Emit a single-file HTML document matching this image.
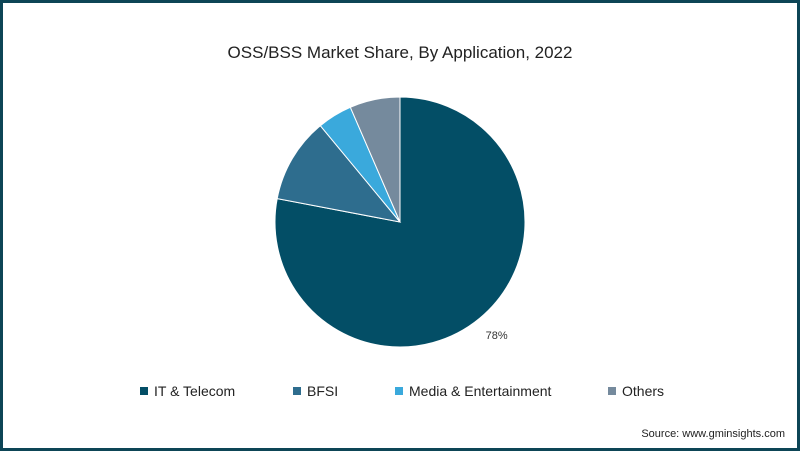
<!DOCTYPE html>
<html><head><meta charset="utf-8"><style>
html,body{margin:0;padding:0;background:#fff}
#frame{position:absolute;left:0;top:0;width:794px;height:445px;border:3px solid #0d4556;background:#fff;font-family:"Liberation Sans",sans-serif;color:#222}
#title{position:absolute;top:40px;left:0;width:794px;text-align:center;font-size:17px}
.leg{position:absolute;top:380px;font-size:14px;white-space:nowrap}
.sw{display:inline-block;width:8px;height:8px;margin-right:6px;vertical-align:1px}
#src{position:absolute;right:12px;top:425px;font-size:11px}
</style></head><body>
<div id="frame">
<div id="title">OSS/BSS Market Share, By Application, 2022</div>
<svg id="pie" width="794" height="445" style="position:absolute;left:0;top:0"></svg>
<div class="leg" style="left:137px"><span class="sw" style="background:#034e66"></span>IT &amp; Telecom</div>
<div class="leg" style="left:290px"><span class="sw" style="background:#2e6d8e"></span>BFSI</div>
<div class="leg" style="left:392px"><span class="sw" style="background:#3aa9dc"></span>Media &amp; Entertainment</div>
<div class="leg" style="left:605px"><span class="sw" style="background:#758a9d"></span>Others</div>
<div id="src">Source: www.gminsights.com</div>
</div>
<script>
const categories=["IT & Telecom","BFSI","Media & Entertainment","Others"];
const values=[78,11,4.5,6.5];
const labels=["78%","","",""];
const colors=["#034e66","#2e6d8e","#3aa9dc","#758a9d"];
const svg=document.getElementById('pie');
const ns="http://www.w3.org/2000/svg";
const cx=397,cy=219,r=125;
const total=values.reduce((a,b)=>a+b,0);
let a0=0;
function pt(a,rr){return [cx+rr*Math.sin(a),cy-rr*Math.cos(a)];}
values.forEach((v,i)=>{
  const a1=a0+v/total*2*Math.PI;
  const p0=pt(a0,r),p1=pt(a1,r);
  const large=(a1-a0)>Math.PI?1:0;
  const p=document.createElementNS(ns,'path');
  p.setAttribute('d',`M${cx},${cy}L${p0[0]},${p0[1]}A${r},${r} 0 ${large} 1 ${p1[0]},${p1[1]}Z`);
  p.setAttribute('fill',colors[i]);
  p.setAttribute('stroke','#fff');
  p.setAttribute('stroke-width','1');
  
  
  svg.appendChild(p);
  if(labels[i]){
    const am=(a0+a1)/2;
    const lp=pt(am,r+14);
    const t=document.createElementNS(ns,'text');
    t.setAttribute('x',lp[0]-3);
    t.setAttribute('y',lp[1]+10);
    t.setAttribute('font-size','11');
    t.setAttribute('font-family','Liberation Sans, sans-serif');
    t.setAttribute('fill','#333');
    t.textContent=labels[i];
    
    
    svg.appendChild(t);
  }
  a0=a1;
});
</script>
</body></html>
